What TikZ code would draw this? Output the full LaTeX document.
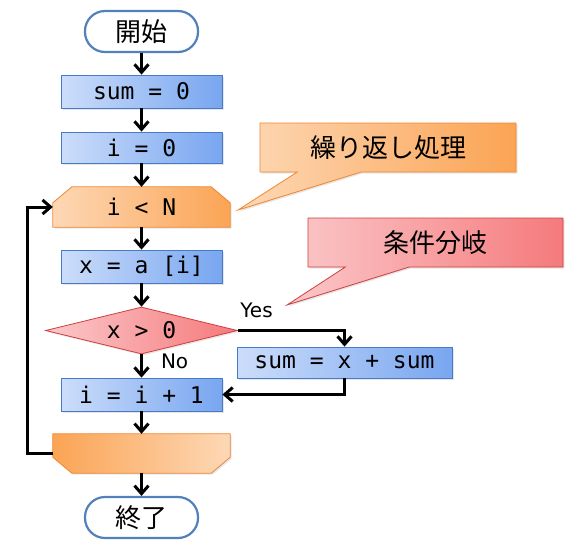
\documentclass[tikz,border=0pt]{standalone}
\usepackage{fontspec}
\setmainfont{DejaVu Sans}
\newfontfamily\codefont{DejaVu Sans Mono}
\newfontfamily\jpfont{Noto Sans CJK JP}
\usetikzlibrary{arrows.meta}
\usetikzlibrary{shapes.geometric}
\usetikzlibrary{shapes.callouts}
\usetikzlibrary{backgrounds}
\usetikzlibrary{shadows}

\definecolor{blueL}{RGB}{204,221,250}
\definecolor{blueR}{RGB}{120,166,240}
\definecolor{blueD}{RGB}{72,122,200}
\definecolor{orangeL}{RGB}{253,216,182}
\definecolor{orangeR}{RGB}{251,164,84}
\definecolor{orangeD}{RGB}{240,134,48}
\definecolor{redL}{RGB}{251,200,202}
\definecolor{redR}{RGB}{245,122,124}
\definecolor{redD}{RGB}{208,62,62}
\definecolor{termD}{RGB}{82,128,186}

\begin{document}
\begin{tikzpicture}[x=1pt, y=-1pt, >={Straight Barb[length=8pt,width=14pt]}]
  \tikzset{
    shd/.style={drop shadow={opacity=0.2, shadow xshift=1.5pt, shadow yshift=-1.5pt}},
    term/.style={rectangle, rounded corners=20pt, draw=termD, line width=2.2pt, fill=white,
      minimum width=113pt, minimum height=41pt, inner sep=0pt, font=\jpfont\fontsize{26}{30}\selectfont},
    proc/.style={rectangle, shd, draw=blueD, line width=0.8pt, left color=blueL, right color=blueR,
      minimum width=161pt, minimum height=33pt, inner sep=0pt, font=\codefont\fontsize{23}{27}\selectfont},
    cond/.style={diamond, aspect=4, shd, draw=redD, line width=0.8pt, left color=redL, right color=redR,
      minimum width=192pt, minimum height=47pt, inner sep=0pt, font=\codefont\fontsize{23}{27}\selectfont},
    lim/.style={rectangle, minimum width=177pt, minimum height=40pt, inner sep=0pt,
      font=\codefont\fontsize{23}{27}\selectfont},
    limfill/.style={shd, draw=orangeD, line width=0.8pt},
    note/.style={rectangle callout, shd, line width=0.8pt, minimum width=256pt, minimum height=49pt,
      callout pointer width=64pt, inner sep=0pt, font=\jpfont\fontsize{26}{30}\selectfont},
    flow/.style={->, line width=3pt},
    lbl/.style={inner sep=0pt, font=\fontsize{20}{24}\selectfont}
  }
  \useasboundingbox (0,0) rectangle (580,550);

  \node[term] (st)  at (141.5,31.5)  {開始};
  \node[proc] (s0)  at (141.5,91.5)  {sum = 0};
  \node[proc, minimum height=31pt] (i0) at (141.5,147.5) {i = 0};
  \node[lim]  (lp)  at (141.5,207)   {i < N};
  \node[proc] (xa)  at (141.5,266.5) {x = a [i]};
  \node[cond] (cd)  at (141.5,330.5) {x > 0};
  \node[proc, minimum width=215pt, minimum height=31pt] (sx) at (344.5,362.5) {sum = x + sum};
  \node[proc] (inc) at (141.5,394.5) {i = i + 1};
  \node[lim, minimum height=39pt] (lpe) at (141.5,453.5) {};
  \node[term] (en)  at (141.5,517.5) {終了};

  % loop limit shapes behind their text
  \begin{scope}[on background layer]
    \path[limfill, left color=orangeL, right color=orangeR]
      ([xshift=19pt]lp.north west) -- ([xshift=-19pt]lp.north east)
      -- ([yshift=-16pt]lp.north east) -- (lp.south east) -- (lp.south west)
      -- ([yshift=-16pt]lp.north west) -- cycle;
    \path[limfill, left color=orangeR, right color=orangeL]
      (lpe.north west) -- (lpe.north east) -- ([yshift=16pt]lpe.south east)
      -- ([xshift=-19pt]lpe.south east) -- ([xshift=19pt]lpe.south west)
      -- ([yshift=16pt]lpe.south west) -- cycle;
  \end{scope}

  % callouts
  \node[note, draw=orangeD, left color=orangeL, right color=orangeR,
    callout absolute pointer={(238,210)}] (c1) at (388,147.5) {繰り返し処理};
  \node[note, draw=redD, left color=redL, right color=redR, minimum width=255pt,
    callout absolute pointer={(287,305)}] (c2) at (435.5,242.5) {条件分岐};

  % main flow
  \draw[flow] (st) -- (s0);
  \draw[flow] (s0) -- (i0);
  \draw[flow] (i0) -- (lp);
  \draw[flow] (lp) -- (xa);
  \draw[flow] (xa) -- (cd);
  \draw[flow] (cd) -- node[lbl, pos=0.3, right, xshift=18pt] {No} (inc);
  \draw[flow] (inc) -- (lpe);
  \draw[flow] (lpe) -- (en);

  % branch and loop back
  \draw[flow] (cd.east) -| node[lbl, pos=0, above right, xshift=1pt, yshift=11pt] {Yes} (sx.north);
  \draw[flow] (sx.south) |- (inc.east);
  \draw[flow] (lpe.west) -- ++(-25,0) |- (lp.west);
\end{tikzpicture}
\end{document}
